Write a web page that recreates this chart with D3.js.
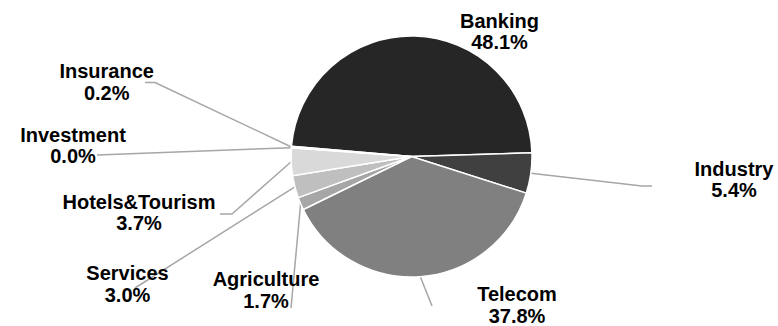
<!DOCTYPE html>
<html>
<head>
<meta charset="utf-8">
<script src="https://cdn.jsdelivr.net/npm/d3@7"></script>
<style>
  body { margin: 0; background: #fff; }
  svg { display: block; }
  .lbl { font-family: "Liberation Sans", Arial, sans-serif; font-weight: bold; font-size: 20px; fill: #000; }
</style>
</head>
<body>
<div id="chart"></div>
<script>
// data
const sectors = ["Banking", "Industry", "Telecom", "Agriculture", "Services", "Hotels&Tourism", "Investment", "Insurance"];
const shares = [48.1, 5.4, 37.8, 1.7, 3.0, 3.7, 0.0, 0.2];

// look
const sliceColors = ["#262626", "#404040", "#808080", "#a6a6a6", "#bfbfbf", "#d9d9d9", "#e6e6e6", "#f2f2f2"];

// label anchors (center x, first baseline) and leader bends, placed by hand like the original
const labelLayout = {
  "Banking":        { x: 499.5, y: 27.5,  leader: null },
  "Industry":       { x: 734,   y: 175.5, leader: [[652, 186], [642, 186]] },
  "Telecom":        { x: 517,   y: 301,   leader: [[432, 306]] },
  "Agriculture":    { x: 266,   y: 286,   leader: [[291, 308]] },
  "Services":       { x: 127.5, y: 280,   leader: [[135, 288]] },
  "Hotels&Tourism": { x: 139,   y: 208.5, leader: [[220, 214], [232, 214]] },
  "Investment":     { x: 73,    y: 141.7, leader: [[97, 155]] },
  "Insurance":      { x: 106.7, y: 78,    leader: [[145, 82.5], [155, 82.5]] }
};

const width = 778, height = 326;
const cx = 411.5, cy = 156.5, r = 120.5;
const lineGap = 21.5;

const svg = d3.select("#chart")
  .append("svg")
  .attr("width", width)
  .attr("height", height);

const rows = sectors.map((s, i) => ({ name: s, value: shares[i] }));

const color = d3.scaleOrdinal().domain(sectors).range(sliceColors);
const pct = d3.format(".1f");

const start = -85.1 * Math.PI / 180;
const pie = d3.pie()
  .sort(null)
  .value(d => d.value)
  .startAngle(start)
  .endAngle(start + 2 * Math.PI);

const arc = d3.arc().innerRadius(0).outerRadius(r);
const arcs = pie(rows);

// leader lines first, pie covers their ends
const line = d3.line();
svg.append("g")
  .selectAll("path")
  .data(arcs.filter(d => labelLayout[d.data.name].leader))
  .enter().append("path")
  .attr("d", d => {
    const a = (d.startAngle + d.endAngle) / 2;
    const edge = [cx + r * Math.sin(a), cy - r * Math.cos(a)];
    return line(labelLayout[d.data.name].leader.concat([edge]));
  })
  .attr("fill", "none")
  .attr("stroke", "#a6a6a6")
  .attr("stroke-width", 1.5);

// slices
svg.append("g")
  .attr("transform", `translate(${cx},${cy})`)
  .selectAll("path")
  .data(arcs.filter(d => d.value > 0))
  .enter().append("path")
  .attr("d", arc)
  .attr("fill", d => color(d.data.name))
  .attr("stroke", "#fff")
  .attr("stroke-width", 1.5);

// labels
const labels = svg.append("g")
  .selectAll("text")
  .data(rows)
  .enter().append("text")
  .attr("class", "lbl")
  .attr("text-anchor", "middle")
  .attr("x", d => labelLayout[d.name].x)
  .attr("y", d => labelLayout[d.name].y);

labels.append("tspan")
  .attr("x", d => labelLayout[d.name].x)
  .text(d => d.name);

labels.append("tspan")
  .attr("x", d => labelLayout[d.name].x)
  .attr("dy", lineGap)
  .text(d => pct(d.value) + "%");
</script>
</body>
</html>
